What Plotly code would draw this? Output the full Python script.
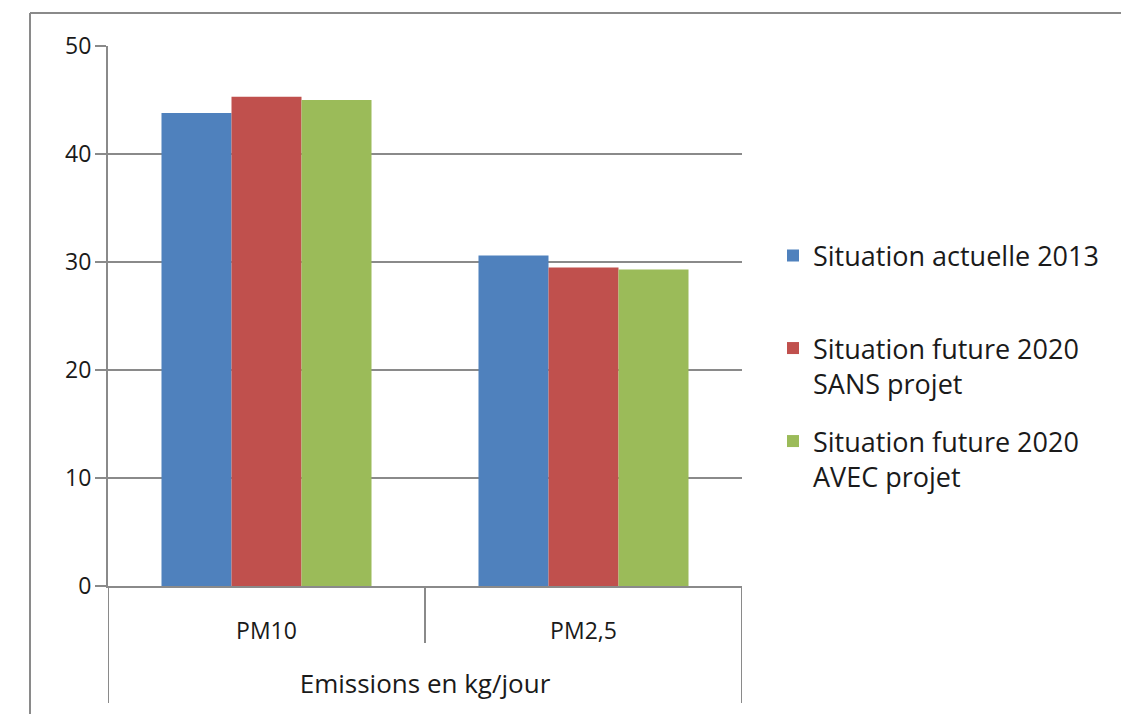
import plotly.graph_objects as go

# Emissions data (kg/jour)
categories = ["PM10", "PM2,5"]
series_names = [
    "Situation actuelle 2013",
    "Situation future 2020<br>SANS projet",
    "Situation future 2020<br>AVEC projet",
]
actuelle_2013 = [43.8, 30.6]
future_2020_sans = [45.3, 29.5]
future_2020_avec = [45.0, 29.3]
y_ticks = [0, 10, 20, 30, 40, 50]
x_title = "Emissions en kg/jour"

colors = ["#4F81BD", "#C0504D", "#9BBB59"]
series_values = [actuelle_2013, future_2020_sans, future_2020_avec]
legend_ids = ["legend", "legend2", "legend3"]

FONT = "Open Sans"
TEXT = "#1a1a1a"
GRID = "#8a8a8a"

W, H = 1121, 714
L, R, T, B = 108, 379, 46, 128
plot_w = W - L - R
plot_h = H - T - B

fig = go.Figure()
for name, vals, col, lg in zip(series_names, series_values, colors, legend_ids):
    fig.add_trace(go.Bar(
        x=categories, y=vals, name=name,
        marker=dict(color=col, line=dict(width=0)),
        legend=lg, showlegend=True,
    ))

legend_common = dict(
    font=dict(family=FONT, size=27, color=TEXT),
    bgcolor="rgba(0,0,0,0)",
    borderwidth=0,
    xanchor="left",
    yanchor="middle",
    valign="top",
    x=(773 - L) / plot_w,
)

def legend_at(center_px):
    d = dict(legend_common)
    d["y"] = (H - B - center_px) / plot_h
    return d

def px_below(px):
    return -px / plot_h

frame_x = (30 - L) / plot_w
frame_y = (H - B - 13) / plot_h
shapes = [
    # outer frame (left and top edges)
    dict(type="line", xref="paper", yref="paper",
         x0=frame_x, x1=(W - L) / plot_w, y0=frame_y, y1=frame_y,
         line=dict(color=GRID, width=2)),
    dict(type="line", xref="paper", yref="paper",
         x0=frame_x, x1=frame_x, y0=frame_y, y1=-(B + 5) / plot_h,
         line=dict(color=GRID, width=2)),
    # divider lines of the category axis below the zero line
    dict(type="line", xref="x", yref="paper", x0=-0.5, x1=-0.5,
         y0=0, y1=px_below(117), line=dict(color=GRID, width=2)),
    dict(type="line", xref="x", yref="paper", x0=0.5, x1=0.5,
         y0=0, y1=px_below(57), line=dict(color=GRID, width=2)),
    dict(type="line", xref="x", yref="paper", x0=1.5, x1=1.5,
         y0=0, y1=px_below(117), line=dict(color=GRID, width=2)),
]

fig.update_layout(
    width=W, height=H,
    margin=dict(l=L, r=R, t=T, b=B, autoexpand=False),
    paper_bgcolor="white", plot_bgcolor="white",
    showlegend=True,
    barmode="group", bargap=0.3375, bargroupgap=0,
    font=dict(family=FONT, size=25, color=TEXT),
    legend=legend_at(256),
    legend2=legend_at(366),
    legend3=legend_at(459),
    shapes=shapes,
    xaxis=dict(
        type="category", categoryorder="array", categoryarray=categories,
        range=[-0.5, 1.5],
        showline=True, linecolor=GRID, linewidth=2,
        showgrid=False, zeroline=False, ticks="",
        ticklabelstandoff=23,
        tickfont=dict(family=FONT, size=23, color=TEXT),
        title=dict(text=x_title, standoff=30,
                   font=dict(family=FONT, size=26, color=TEXT)),
        automargin=False, fixedrange=True,
    ),
    yaxis=dict(
        range=[0, 50], tickvals=y_ticks,
        showline=True, linecolor=GRID, linewidth=2,
        showgrid=True, gridcolor=GRID, gridwidth=2,
        zeroline=False,
        ticks="outside", ticklen=11, tickwidth=2, tickcolor=GRID,
        ticklabelstandoff=-1,
        tickfont=dict(family=FONT, size=23, color=TEXT),
        automargin=False, fixedrange=True,
    ),
)

fig.write_html("out.html", config={"displayModeBar": False})
